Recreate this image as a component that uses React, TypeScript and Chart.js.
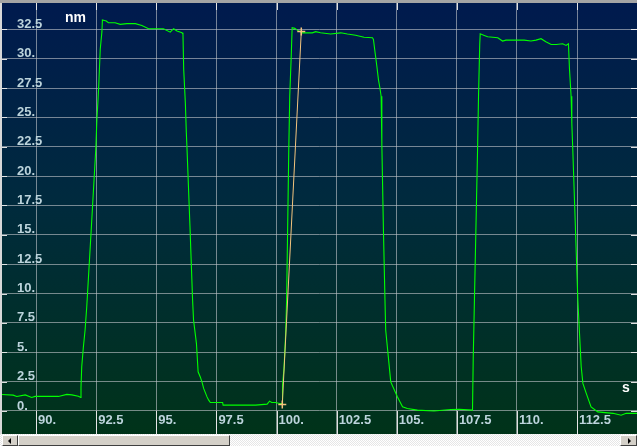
import React, { useEffect, useRef } from 'react';
import { Chart, registerables } from 'chart.js';

Chart.register(...registerables);

// Green trace: time (s) and value (nm)
const greenTimes = [
  88.55, 89.05, 89.2, 89.55, 89.82, 89.96, 90.93, 91.28, 91.49, 91.76, 91.86, 91.87, 91.9, 91.97, 92.04, 92.11,
  92.3, 92.49, 92.53, 92.57, 92.61, 92.67, 92.74, 92.76, 92.92, 93.01, 93.29, 93.5, 93.78, 94.13, 94.4, 94.68,
  95.3, 95.58, 95.72, 95.86, 96.07, 96.11, 96.14, 96.21, 96.25, 96.28, 96.4, 96.51, 96.55, 96.67, 96.74, 96.83,
  96.9, 96.97, 97.11, 97.18, 97.25, 97.76, 97.78, 99.13, 99.61, 99.71, 99.8, 99.96, 100.13, 100.24, 100.25, 100.31,
  100.38, 100.42, 100.51, 100.55, 100.61, 100.65, 100.76, 100.86, 101.07, 101.49, 101.63, 101.83, 102.25, 102.67,
  102.95, 103.29, 103.64, 103.99, 104.03, 104.1, 104.17, 104.24, 104.3, 104.35, 104.38, 104.45, 104.51, 104.54,
  104.65, 104.75, 105.03, 105.24, 105.44, 105.86, 106.55, 107.25, 107.6, 108.15, 108.18, 108.23, 108.36, 108.4,
  108.45, 108.47, 108.64, 108.78, 109.2, 109.4, 109.54, 110.3, 110.58, 110.79, 111.0, 111.2, 111.42, 111.63,
  111.9, 112.04, 112.14, 112.18, 112.25, 112.28, 112.32, 112.53, 112.6, 112.67, 112.74, 112.88, 113.08, 113.36,
  113.99, 114.33, 114.54, 115.1,
];
const greenValues = [
  1.41, 1.35, 1.24, 1.37, 1.15, 1.24, 1.24, 1.41, 1.37, 1.26, 1.15, 2.0, 3.76, 5.47, 6.9, 8.9,
  15.6, 22.5, 24.8, 26.2, 27.8, 30.8, 32.3, 33.3, 33.2, 33.06, 33.06, 32.92, 32.98, 32.98, 32.83, 32.55,
  32.55, 32.26, 32.55, 32.35, 32.2, 32.1, 29.1, 26.2, 23.7, 22.25, 15.8, 9.45, 7.75, 5.76, 3.34, 2.9,
  2.48, 1.92, 1.2, 0.92, 0.72, 0.72, 0.5, 0.5, 0.58, 0.84, 0.72, 0.72, 0.64, 0.64, 2.2, 3.6,
  6.6, 9.45, 22.25, 26.8, 30.1, 32.64, 32.58, 32.43, 32.2, 32.2, 32.3, 32.2, 32.1, 32.2,
  32.1, 32.0, 31.83, 31.78, 31.64, 30.5, 29.4, 28.2, 27.5, 26.8, 22.7, 15.0, 9.45, 6.9,
  4.6, 2.48, 1.2, 0.35, 0.21, 0.07, 0.0, 0.13, 0.15, 0.07, 4.5, 9.45, 22.25, 26.8,
  31.2, 32.12, 31.98, 31.87, 31.78, 31.5, 31.58, 31.58, 31.5, 31.58, 31.7, 31.44, 31.2, 31.2,
  31.27, 31.13, 31.27, 29.2, 26.8, 24.5, 22.25, 9.45, 6.6, 3.76, 2.35, 1.5, 0.35, -0.08,
  -0.2, -0.36, -0.2, -0.2,
];

// Orange cursor segment
const orangeTimes = [100.24, 101.03];
const orangeValues = [0.55, 32.32];

// Axes
const xMin = 88.585;
const xMax = 114.99;
const yMin = -1.96;
const yMax = 34.74;
const xTickStep = 2.5;
const yTickStep = 2.5;
const yUnit = 'nm';
const xUnit = 's';

const LABEL_COLOR = '#bcd4dc';
const GRID_COLOR = 'rgba(190,196,200,0.62)';
const FONT = { family: 'Liberation Sans', size: 13, weight: 'bold' as const };

const fmt = (v: number) => {
  const r = Math.round(v * 10) / 10;
  return Number.isInteger(r) ? `${Math.abs(r) < 1e-9 ? 0 : r}.` : r.toFixed(1);
};

const bgPlugin = {
  id: 'bgGradient',
  beforeDraw(chart: any) {
    const { ctx, width, height } = chart;
    const g = ctx.createLinearGradient(0, 0, 0, height);
    g.addColorStop(0, '#001a4e');
    g.addColorStop(0.45, '#002a3e');
    g.addColorStop(1, '#003319');
    ctx.save();
    ctx.fillStyle = g;
    ctx.fillRect(0, 0, width, height);
    ctx.restore();
  },
  beforeDatasetsDraw(chart: any) {
    const { ctx, chartArea } = chart;
    const xs = chart.scales.x;
    const ys = chart.scales.y;
    ctx.save();
    ctx.strokeStyle = 'rgba(235,235,235,0.95)';
    ctx.lineWidth = 1;
    ctx.beginPath();
    xs.ticks.forEach((t: any) => {
      const px = Math.round(xs.getPixelForValue(t.value)) + 0.5;
      ctx.moveTo(px, chartArea.top);
      ctx.lineTo(px, chartArea.top + 7);
      ctx.moveTo(px, chartArea.bottom - 23);
      ctx.lineTo(px, chartArea.bottom);
    });
    ys.ticks.forEach((t: any) => {
      const py = Math.round(ys.getPixelForValue(t.value)) + 0.5;
      ctx.moveTo(chartArea.left, py);
      ctx.lineTo(chartArea.left + 5, py);
      ctx.moveTo(chartArea.right - 6, py);
      ctx.lineTo(chartArea.right, py);
    });
    ctx.stroke();
    ctx.fillStyle = '#ffffff';
    ctx.font = 'bold 14px "Liberation Sans"';
    ctx.textBaseline = 'alphabetic';
    ctx.textAlign = 'left';
    ctx.fillText(yUnit, 63, 19);
    ctx.fillText(xUnit, 620, 389);
    ctx.restore();
  },
};

export default function App() {
  const ref = useRef<HTMLCanvasElement | null>(null);

  useEffect(() => {
    document.body.style.margin = '0';
    const canvas = ref.current;
    if (!canvas) return;
    const chart = new Chart(canvas, {
      type: 'line',
      data: {
        datasets: [
          {
            data: orangeTimes.map((t, i) => ({ x: t, y: orangeValues[i] })),
            borderColor: '#f3c47e',
            borderWidth: 1,
            pointStyle: 'cross',
            pointRadius: 4,
            pointBorderColor: '#f3c47e',
            pointBorderWidth: 1.5,
            pointHoverRadius: 4,
            order: 0,
          },
          {
            data: greenTimes.map((t, i) => ({ x: t, y: greenValues[i] })),
            borderColor: '#00ff00',
            borderWidth: 1.1,
            pointRadius: 0,
            tension: 0,
            order: 1,
          },
        ],
      },
      options: {
        animation: false,
        responsive: false,
        maintainAspectRatio: false,
        layout: { autoPadding: false, padding: 0 },
        plugins: { legend: { display: false }, tooltip: { enabled: false } },
        scales: {
          x: {
            type: 'linear',
            min: xMin,
            max: xMax,
            border: { display: false },
            grid: { color: GRID_COLOR, lineWidth: 1, drawTicks: false },
            ticks: {
              stepSize: xTickStep,
              includeBounds: false,
              mirror: true,
              align: 'start',
              padding: 6,
              labelOffset: 2,
              autoSkip: false,
              maxRotation: 0,
              minRotation: 0,
              color: LABEL_COLOR,
              font: FONT,
              callback: (v: any) => fmt(Number(v)),
            },
            afterFit: (s: any) => {
              s.height = 0;
              s.paddingLeft = 0;
              s.paddingRight = 0;
              s.paddingTop = 0;
              s.paddingBottom = 0;
            },
          },
          y: {
            type: 'linear',
            min: yMin,
            max: yMax,
            border: { display: false },
            grid: { color: GRID_COLOR, lineWidth: 1, drawTicks: false },
            ticks: {
              stepSize: yTickStep,
              includeBounds: false,
              mirror: true,
              padding: 15,
              labelOffset: -5,
              color: LABEL_COLOR,
              font: FONT,
              callback: (v: any) => fmt(Number(v)),
            },
            afterFit: (s: any) => {
              s.width = 0;
              s.paddingLeft = 0;
              s.paddingRight = 0;
              s.paddingTop = 0;
              s.paddingBottom = 0;
            },
          },
        },
      },
      plugins: [bgPlugin],
    });
    return () => chart.destroy();
  }, []);

  const btn: React.CSSProperties = {
    position: 'absolute',
    top: 435,
    height: 11,
    background: '#d4d0c8',
    boxSizing: 'border-box',
    borderTop: '1px solid #ffffff',
    borderLeft: '1px solid #ffffff',
    borderRight: '1px solid #404040',
    borderBottom: '1px solid #404040',
  };

  return (
    <div style={{ position: 'relative', width: 637, height: 446, background: '#d8d8d8', overflow: 'hidden' }}>
      <div style={{ position: 'absolute', left: 0, top: 0, width: 637, height: 3, background: '#a4a4a4' }} />
      <canvas ref={ref} width={635} height={431} style={{ position: 'absolute', left: 2, top: 3, width: 635, height: 431 }} />
      <div
        style={{
          position: 'absolute',
          left: 0,
          top: 434,
          width: 637,
          height: 12,
          background: 'repeating-conic-gradient(#ffffff 0% 25%, #e6e6e6 0% 50%) 0 0 / 2px 2px',
        }}
      />
      <div style={{ ...btn, left: 2, width: 16 }}>
        <div style={{ position: 'absolute', left: 5, top: 2, width: 0, height: 0, borderTop: '3px solid transparent', borderBottom: '3px solid transparent', borderRight: '3px solid #000' }} />
      </div>
      <div style={{ ...btn, left: 18, width: 212 }} />
      <div style={{ ...btn, left: 620, width: 17 }}>
        <div style={{ position: 'absolute', left: 7, top: 2, width: 0, height: 0, borderTop: '3px solid transparent', borderBottom: '3px solid transparent', borderLeft: '3px solid #000' }} />
      </div>
    </div>
  );
}
